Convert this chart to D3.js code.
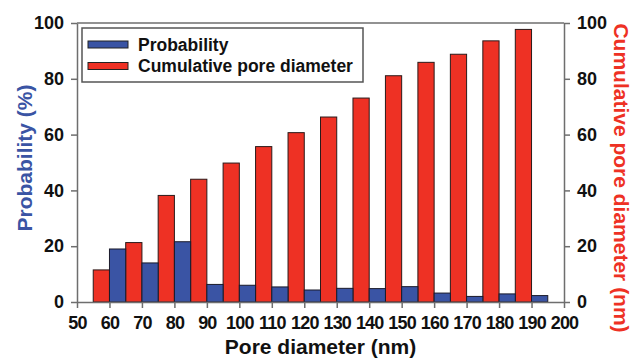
<!DOCTYPE html>
<html><head><meta charset="utf-8">
<script src="https://cdn.jsdelivr.net/npm/d3@7"></script>
<style>
html,body{margin:0;padding:0;background:#fff;}
svg{display:block;font-family:"Liberation Sans",Arial,sans-serif;font-weight:bold;}
</style></head>
<body><svg id="c" width="633" height="358"></svg>
<script>
const diameters = [60,70,80,90,100,110,120,130,140,150,160,170,180,190];
const probability = [19,14,21.6,6.3,6.0,5.4,4.3,4.9,4.8,5.5,3.2,2.0,2.9,2.3];
const cumulative = [11.5,21.3,38.2,44,49.8,55.7,60.7,66.3,73.1,81.1,85.9,88.8,93.6,97.7];
const xTicks = [50,60,70,80,90,100,110,120,130,140,150,160,170,180,190,200];
const yTicks = [0,20,40,60,80,100];
const seriesNames = ["Probability","Cumulative pore diameter"];

const blue = "#3a54a4", red = "#ee3124", axisCol = "#6e6e6e";
const svg = d3.select("#c");
const L = 77, R = 564, T = 23, B = 302;
const x = d3.scaleLinear().domain([50,200]).range([L,R]);
const y = d3.scaleLinear().domain([0,100]).range([B,T]);
const half = 5;

// bars
svg.append("g").selectAll("rect").data(diameters).join("rect")
  .attr("x", d => x(d - half)).attr("width", d => x(d) - x(d - half))
  .attr("y", (d,i) => y(cumulative[i])).attr("height", (d,i) => y(0) - y(cumulative[i]))
  .attr("fill", red).attr("stroke", "#2a1a1a").attr("stroke-width", 1);
svg.append("g").selectAll("rect").data(diameters).join("rect")
  .attr("x", d => x(d)).attr("width", d => x(d + half) - x(d))
  .attr("y", (d,i) => y(probability[i])).attr("height", (d,i) => y(0) - y(probability[i]))
  .attr("fill", blue).attr("stroke", "#1a1a2a").attr("stroke-width", 1);

// frame top
svg.append("line").attr("x1",L).attr("x2",R).attr("y1",T).attr("y2",T)
  .attr("stroke",axisCol).attr("stroke-width",1.5);

function styleAxis(g){
  g.selectAll(".domain").attr("stroke",axisCol).attr("stroke-width",1.5);
  g.selectAll(".tick line").attr("stroke",axisCol).attr("stroke-width",1.5);
  g.selectAll(".tick text").attr("fill","#111").style("font-size","18px").style("font-weight","bold")
    .style("font-family",'"Liberation Sans",Arial,sans-serif');
}
const xa = svg.append("g").attr("transform",`translate(0,${B})`)
  .call(d3.axisBottom(x).tickValues(xTicks).tickSize(6).tickSizeOuter(0).tickPadding(8));
styleAxis(xa);
xa.selectAll(".tick text").attr("letter-spacing","-0.8");
const ya = svg.append("g").attr("transform",`translate(${L},0)`)
  .call(d3.axisLeft(y).tickValues(yTicks).tickSize(6).tickSizeOuter(0).tickPadding(7));
styleAxis(ya);
const yr = svg.append("g").attr("transform",`translate(${R},0)`)
  .call(d3.axisRight(y).tickValues(yTicks).tickSize(6).tickSizeOuter(0).tickPadding(7));
styleAxis(yr);

// titles
svg.append("text").attr("x",(L+R)/2).attr("y",354).attr("text-anchor","middle")
  .style("font-size","21px").attr("fill","#111").text("Pore diameter (nm)");
svg.append("text").attr("transform","translate(32,158) rotate(-90)").attr("text-anchor","middle")
  .style("font-size","21px").attr("fill",blue).text("Probability (%)");
svg.append("text").attr("transform","translate(614,178) rotate(90)").attr("text-anchor","middle")
  .style("font-size","21px").attr("fill",red).text("Cumulative pore diameter (nm)");

// legend
const lg = svg.append("g");
lg.append("rect").attr("x",82).attr("y",28).attr("width",281).attr("height",54)
  .attr("fill","#fff").attr("stroke","#555").attr("stroke-width",1.5);
const lcols = [blue, red];
seriesNames.forEach((n,i) => {
  lg.append("rect").attr("x",88).attr("y",41 + i*21.5).attr("width",40).attr("height",7)
    .attr("fill",lcols[i]).attr("stroke","#222").attr("stroke-width",1);
  lg.append("text").attr("x",138).attr("y",50.5 + i*21.5).style("font-size","17.5px")
    .attr("fill","#111").text(n);
});
</script></body></html>
